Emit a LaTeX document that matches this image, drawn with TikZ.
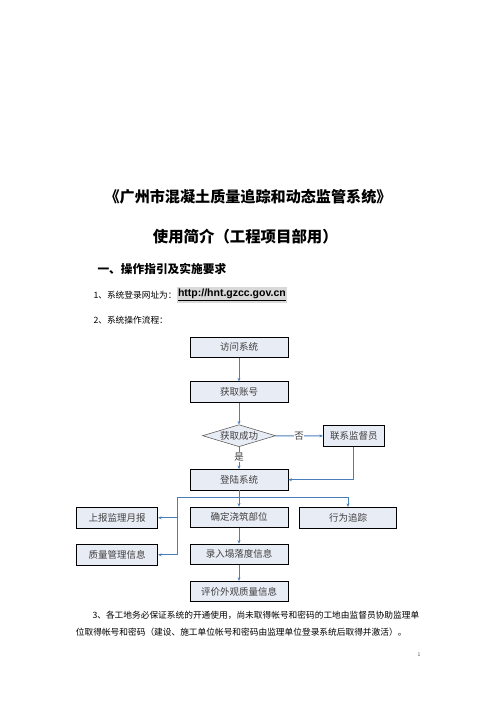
\documentclass[tikz,border=0pt]{standalone}
\usepackage{fontspec}
\usepackage{xcolor}
\usetikzlibrary{arrows.meta, positioning, shapes.geometric}
\newfontfamily\cjk{Noto Sans CJK SC}
\newfontfamily\urlfont{Liberation Sans}
\definecolor{boxfill}{HTML}{E8ECF5}
\definecolor{flowblue}{HTML}{4A7EBB}
\definecolor{boxtext}{HTML}{3F3F3F}

\begin{document}
\begin{tikzpicture}[x=1pt, y=-1pt, >={Stealth[length=3.5pt, width=3pt]}, font=\cjk,
  box/.style={draw=black, fill=boxfill, line width=0.8pt, minimum width=98pt,
    minimum height=20.5pt, inner sep=0pt, text=boxtext, font=\cjk\fontsize{9.5}{11}\selectfont},
  decision/.style={box, diamond, draw=black!70, line width=0.5pt, minimum width=73pt, minimum height=22pt},
  link/.style={draw=flowblue, line width=0.9pt},
  flow/.style={link, ->},
  tag/.style={fill=white, inner sep=0.5pt, text=boxtext, font=\cjk\fontsize{9.5}{11}\selectfont},
  body/.style={anchor=west, inner sep=0pt, font=\cjk\fontsize{8.7}{10}\selectfont}]

  % Page frame
  \useasboundingbox (0,0) rectangle (496,702);

  % Title lines
  \node[font=\cjk\bfseries\fontsize{15.1}{18}\selectfont] (title) at (248,196.7) {《广州市混凝土质量追踪和动态监管系统》};
  \node[font=\cjk\bfseries\fontsize{15.4}{18}\selectfont] (subtitle) at (245.3,236.7) {使用简介（工程项目部用）};
  \node[body, font=\cjk\bfseries\fontsize{11.7}{14}\selectfont] (heading) at (97.3,269) {一、操作指引及实施要求};

  % Steps 1 and 2
  \node[body] (step1) at (93.3,295) {1、系统登录网址为：};
  \node[right=0pt of step1, fill=gray!30, inner xsep=1pt, inner ysep=0pt, minimum height=16.3pt,
    font=\urlfont\bfseries\fontsize{10.5}{12}\selectfont] (url) {\underline{http://hnt.gzcc.gov.cn}};
  \node[body] (step2) at (93.3,320) {2、系统操作流程：};

  % Flow chart boxes
  \node[box] (visit) at (239,347.3) {访问系统};
  \node[box] (acct) at (239,392) {获取账号};
  \node[decision] (check) at (239,435.7) {\makebox[0pt]{获取成功}};
  \node[box, minimum width=61pt] (contact) at (353.8,436) {联系监督员};
  \node[box] (login) at (239,479.7) {登陆系统};
  \node[box] (pour) at (239,517.3) {确定浇筑部位};
  \node[box, minimum width=97.4pt, minimum height=21pt] (behave) at (348,517.8) {行为追踪};
  \node[box, minimum width=81.4pt, minimum height=21pt] (report) at (117,517.8) {上报监理月报};
  \node[box, minimum width=81.4pt, minimum height=21pt] (quality) at (117,554.8) {质量管理信息};
  \node[box] (slump) at (239,554.3) {录入塌落度信息};
  \node[box] (appear) at (239,591.5) {评价外观质量信息};

  % Branch points below login
  \coordinate (fork) at (239,497);
  \coordinate (forkL) at (177,497);
  \coordinate (forkR) at (348,497);

  % Connectors
  \draw[flow] (visit) -- (acct);
  \draw[flow] (acct) -- (check);
  \draw[flow] (check) -- node[tag] {否} (contact);
  \draw[flow] (check) -- node[tag, pos=0.45] {是} (login);
  \draw[flow] (contact.south) |- (login.east);
  \draw[link] (login) -- (fork);
  \draw[link] (forkL) -- (forkR);
  \draw[flow] (fork) -- (pour);
  \draw[flow] (forkR) -- (behave);
  \draw[flow] (forkL) |- (report.east);
  \draw[flow] (forkL) |- (quality.east);
  \draw[flow] (pour) -- (slump);
  \draw[flow] (slump) -- (appear);

  % Step 3 paragraph
  \node[body] (para1) at (92.3,615) {3、各工地务必保证系统的开通使用，尚未取得帐号和密码的工地由监督员协助监理单};
  \node[body] (para2) at (75.7,631.7) {位取得帐号和密码（建设、施工单位帐号和密码由监理单位登录系统后取得并激活）。};

  % Page number
  \node[inner sep=0pt, text=black!70, font=\cjk\fontsize{5}{6}\selectfont] (pagenum) at (419,655) {1};
\end{tikzpicture}
\end{document}
